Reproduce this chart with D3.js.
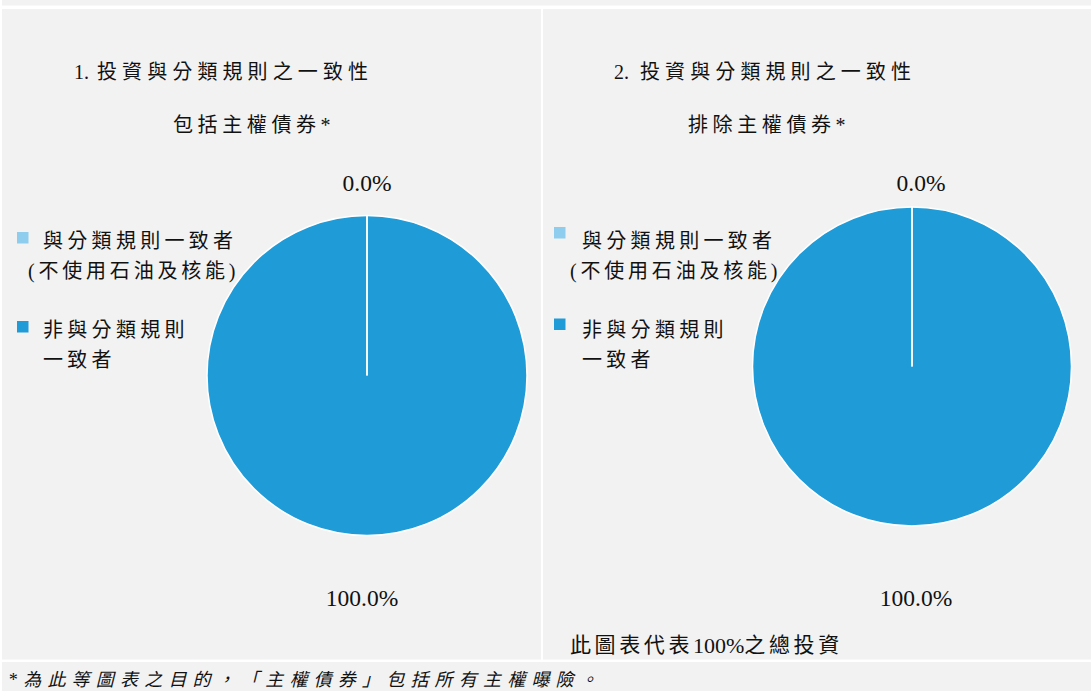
<!DOCTYPE html>
<html>
<head>
<meta charset="utf-8">
<script src="https://cdn.jsdelivr.net/npm/d3@7"></script>
<style>
html,body{margin:0;padding:0;background:#fff;}
svg{display:block;}
</style>
</head>
<body>
<svg id="chart" width="1091" height="691"></svg>
<script>
// ---- data ----
const categories = ["與分類規則一致者(不使用石油及核能)", "非與分類規則一致者"];
const legendLines = [["與分類規則一致者", "(不使用石油及核能)"], ["非與分類規則", "一致者"]];
const colors = ["#8ecdee", "#1f9bd7"];
const titleNumbers = ["1.", "2."];
const titleText = "投資與分類規則之一致性";
const subtitles = ["包括主權債券*", "排除主權債券*"];
const valuesInclSovereign = [0.0, 100.0];
const valuesExclSovereign = [0.0, 100.0];
const noteParts = ["此圖表代表", "100%", "之總投資"];
const footnoteText = "*為此等圖表之目的，「主權債券」包括所有主權曝險。";

const svg = d3.select("#chart");
const FONT = "'Liberation Serif','Noto Sans CJK TC','Noto Sans CJK SC',serif";

// backgrounds
svg.append("rect").attr("x",2).attr("y",0).attr("width",1089).attr("height",5.5).attr("fill","#f2f2f2");
svg.append("rect").attr("x",2).attr("y",9).attr("width",539).attr("height",650.5).attr("fill","#f2f2f2");
svg.append("rect").attr("x",543).attr("y",9).attr("width",548).attr("height",650.5).attr("fill","#f2f2f2");
svg.append("rect").attr("x",2).attr("y",662).attr("width",1089).attr("height",29).attr("fill","#f2f2f2");

const panels = [
  {values: valuesInclSovereign, num: titleNumbers[0], subtitle: subtitles[0], cx: 367, cy: 375.5, r: 160,
   titleX: 74, titleCjkX: 97, subX: 173, legX: 17, legTextX: 43, legParenX: 28, legY: [237.5, 326.5],
   lblTop: {dx: 0, y: 183}, lblBottom: {dx: -5, y: 598}},
  {values: valuesExclSovereign, num: titleNumbers[1], subtitle: subtitles[1], cx: 912, cy: 366.5, r: 159.5,
   titleX: 614, titleCjkX: 640, subX: 688, legX: 554, legTextX: 582, legParenX: 570, legY: [232.5, 324],
   lblTop: {dx: 9, y: 183}, lblBottom: {dx: 4, y: 598}}
];
const textY = [[241, 271], [330, 360]];

const pie = d3.pie().sort(null).value(d => d);

panels.forEach(p => {
  const g = svg.append("g");
  // titles
  const t = g.append("text").attr("x", p.titleX).attr("y", 72).attr("dominant-baseline","central")
    .attr("font-family", FONT).attr("font-size", 20).attr("fill","#111");
  t.append("tspan").text(p.num);
  t.append("tspan").attr("x", p.titleCjkX).attr("letter-spacing", "5.1px").text(titleText);
  g.append("text").attr("x", p.subX).attr("y", 125).attr("dominant-baseline","central")
    .attr("font-family", FONT).attr("font-size", 20).attr("letter-spacing", "4.6px").attr("fill","#111")
    .text(p.subtitle);

  // legend
  categories.forEach((c, i) => {
    g.append("rect").attr("x", p.legX).attr("y", p.legY[i] - 5.5).attr("width", 11.5).attr("height", 11.5)
      .attr("fill", colors[i]);
    legendLines[i].forEach((line, j) => {
      const isParen = line.startsWith("(");
      g.append("text").attr("x", isParen ? p.legParenX : p.legTextX).attr("y", textY[i][j])
        .attr("dominant-baseline","central")
        .attr("font-family", FONT).attr("font-size", 20).attr("letter-spacing", isParen ? "3.8px" : "4.3px").attr("fill","#111")
        .text(line);
    });
  });

  // pie
  const arcs = pie(p.values);
  const arc = d3.arc().innerRadius(0).outerRadius(p.r);
  const pg = g.append("g").attr("transform", `translate(${p.cx},${p.cy})`);
  pg.selectAll("path").data(arcs).join("path")
    .attr("d", arc)
    .attr("fill", (d, i) => colors[i])
    .attr("stroke", "#fff").attr("stroke-width", 1.5);
  // slice boundary lines (visible even with full-circle slice)
  pg.selectAll("line.sep").data(arcs).join("line").attr("class","sep")
    .attr("x1", 0).attr("y1", 0)
    .attr("x2", d => Math.sin(d.startAngle) * p.r)
    .attr("y2", d => -Math.cos(d.startAngle) * p.r)
    .attr("stroke", "#fff").attr("stroke-width", 1.5);

  // labels
  arcs.forEach(d => {
    const big = (d.endAngle - d.startAngle) > Math.PI;
    const pos = big ? p.lblBottom : p.lblTop;
    g.append("text")
      .attr("x", p.cx + pos.dx).attr("y", pos.y)
      .attr("text-anchor","middle").attr("dominant-baseline","central")
      .attr("font-family","'Liberation Serif',serif").attr("font-size", 23.5).attr("fill","#111")
      .text(d.data.toFixed(1) + "%");
  });
});

// bottom note
const note = svg.append("text").attr("x", 570).attr("y", 645).attr("dominant-baseline","central")
  .attr("font-family", FONT).attr("font-size", 21).attr("fill","#111");
note.append("tspan").attr("letter-spacing","3.6px").text(noteParts[0]);
note.append("tspan").attr("font-size", 22).text(noteParts[1]);
note.append("tspan").attr("letter-spacing","3.6px").text(noteParts[2]);

// footnote
svg.append("text").attr("x", 8).attr("y", 680).attr("dominant-baseline","central")
  .attr("font-family", FONT).attr("font-size", 18).attr("font-style","italic").attr("letter-spacing","6.2px").attr("fill","#111")
  .text(footnoteText);
</script>
</body>
</html>
